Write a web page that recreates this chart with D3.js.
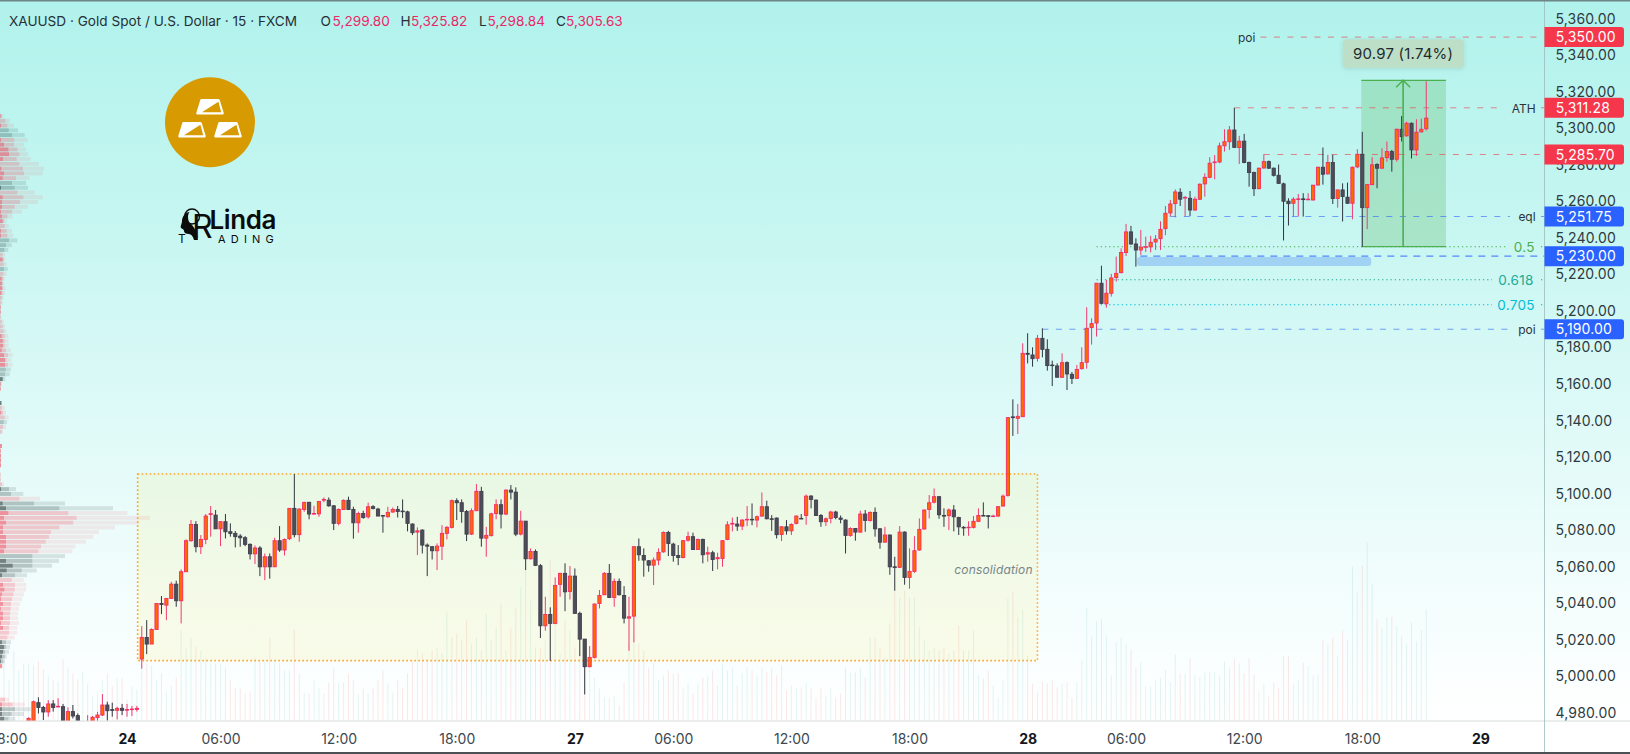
<!DOCTYPE html>
<html><head><meta charset="utf-8">
<script src="https://d3js.org/d3.v7.min.js"></script>
<style>html,body{margin:0;padding:0;background:#fff;overflow:hidden}svg{display:block}text{font-family:Inter,"Liberation Sans",sans-serif}</style>
</head><body><svg id="c" width="1630" height="754"></svg>
<script>
const firstBar=-22, firstVol=-27;
const opens=[4970.5,4966.9,4985.5,4982.9,4980.4,4984.8,4983.3,4983.3,4970.5,4980.6,
4978.4,4965,4970.5,4968.7,4977.3,4978.7,4984.2,4981.7,4981.3,4982.4,
4981.5,4981.8,4981.8,
5009.4,5021.2,5017.6,5025.6,5039.8,5038.9,5042.6,5050.4,5041.3,5057.2,
5074.2,5083.1,5070.9,5074.9,5088.6,5088.2,5080.7,5084.6,5079.1,5078.2,
5076.7,5075.8,5072.2,5067.0,5070.2,5059.9,5065.4,5059.9,5074.2,5069.1,
5075.3,5091.9,5077.5,5091.3,5095.2,5088.8,5088.9,5096.4,5096.4,5093.3,
5083.7,5091.3,5096.3,5091.3,5084.0,5089.1,5087.3,5092.8,5091.5,5088.0,
5087.3,5089.9,5091.3,5090.4,5090.0,5083.3,5078.9,5080.0,5071.8,5070.9,
5068.7,5071.2,5078.2,5081.5,5096.1,5095.0,5090.2,5077.8,5090.6,5101.2,
5075.6,5077.1,5089.1,5093.9,5088.8,5101.9,5100.8,5077.8,5084.9,5064.3,
5068.3,5060.5,5027.6,5033.8,5028.9,5050.3,5056.3,5046.4,5054.8,5034.4,
5020.3,5005.2,5010.3,5039.8,5044.6,5056.3,5043.1,5051.9,5044.2,5031.8,
5032.9,5070.9,5066.1,5063.2,5060.8,5063.6,5068.1,5078.7,5072.3,5066.1,
5065.0,5074.5,5076.4,5069.4,5074.9,5066.9,5067.6,5064.3,5064.5,5074.9,
5083.3,5083.3,5082.2,5085.7,5085.9,5085.5,5087.7,5092.8,5086.2,5086.6,
5077.6,5081.8,5079.6,5083.7,5086.4,5088.0,5098.6,5096.4,5088.0,5084.6,
5086.4,5089.9,5086.6,5085.5,5077.1,5080.9,5078.9,5088.8,5085.3,5089.7,
5080.7,5073.4,5077.3,5059.9,5059.6,5078.9,5054.1,5057.4,5069.1,5080.6,
5091.3,5095.3,5098.3,5088.0,5087.9,5091.0,5086.9,5081.5,5081.3,5081.5,
5084.8,5088.0,5087.9,5087.5,5087.7,5093.2,5099.0,5142.0,5141.2,5142.1,
5176.8,5175.9,5174.1,5185.0,5179.0,5170.4,5169.9,5163.7,5171.7,5165.3,
5163.1,5168.4,5171.9,5190.9,5193.4,5215.2,5204.0,5209.7,5218.3,5221.0,
5232.0,5243.3,5236.7,5233.4,5235.1,5235.1,5237.8,5239.6,5245.1,5253.7,
5258.8,5265.0,5261.9,5261.7,5255.3,5261.2,5269.6,5273.2,5281.4,5281.6,
5290.5,5292.7,5299.1,5289.5,5293.0,5281.3,5275.8,5267.0,5278.3,5281.8,
5278.2,5274.3,5269.6,5260.1,5259.0,5261.2,5261.4,5261.0,5260.8,5269.0,
5278.7,5275.1,5281.3,5261.6,5266.3,5262.3,5259.0,5278.9,5285.8,5256.6,
5269.2,5280.2,5278.2,5284.0,5287.3,5283.1,5299.5,5295.9,5302.8,5288.2,
5298.1,5299.80];
const closes=[4976.9,4986.0,4982.9,4980.4,4984.8,4982.9,4983.5,4968.7,4980.6,4978.2,
4970.5,4968,4973.3,4977.5,4978.7,4984.2,4981.1,4981.3,4982.4,4981.3,
4981.7,4982.0,4982.4,
5021.2,5017.6,5025.6,5039.8,5039.3,5042.6,5050.4,5041.3,5057.2,5074.2,
5083.1,5070.9,5074.9,5087.7,5089.0,5080.7,5084.6,5079.1,5078.2,5076.4,
5075.8,5072.2,5067.0,5070.2,5059.9,5065.4,5059.9,5074.2,5069.1,5074.9,
5091.9,5077.5,5091.5,5095.2,5088.8,5089.1,5095.7,5096.8,5093.3,5083.7,
5091.3,5096.3,5091.3,5084.0,5089.1,5086.9,5092.8,5091.9,5087.7,5087.7,
5089.7,5091.3,5090.2,5090.2,5083.7,5078.6,5079.6,5071.8,5071.2,5068.7,
5071.2,5078.2,5081.5,5096.1,5095.0,5090.2,5077.8,5090.6,5101.2,5075.6,
5077.1,5088.9,5093.9,5088.8,5101.9,5100.8,5077.8,5084.9,5064.3,5068.3,
5060.7,5027.6,5033.8,5028.9,5049.7,5056.3,5046.2,5054.8,5034.4,5020.3,
5005.2,5010.3,5039.5,5044.2,5056.3,5043.1,5051.9,5044.6,5031.8,5032.5,
5070.9,5066.5,5063.6,5060.8,5063.6,5067.8,5078.7,5072.7,5066.1,5065.0,
5074.2,5076.4,5069.4,5074.9,5066.5,5067.6,5063.9,5064.9,5074.2,5082.9,
5083.7,5082.2,5085.5,5085.9,5085.7,5087.3,5092.8,5086.2,5086.0,5077.5,
5081.8,5079.6,5083.1,5087.7,5086.2,5098.6,5096.8,5088.0,5084.6,5086.2,
5089.9,5086.9,5085.9,5077.1,5080.9,5078.9,5088.8,5085.3,5089.7,5080.7,
5073.4,5077.3,5059.9,5059.7,5078.9,5054.1,5057.4,5068.7,5080.4,5091.0,
5095.0,5098.3,5088.4,5087.9,5091.0,5087.3,5081.8,5081.3,5081.6,5084.8,
5088.0,5087.7,5087.5,5087.7,5092.8,5098.6,5141.6,5141.6,5142.3,5176.8,
5176.3,5173.9,5185.0,5179.0,5170.1,5170.1,5163.7,5171.7,5165.5,5163.1,
5168.0,5171.7,5190.5,5193.1,5215.2,5204.2,5209.7,5218.1,5220.6,5232.0,
5243.3,5236.7,5233.4,5234.9,5235.2,5237.6,5239.3,5244.7,5253.5,5258.6,
5265.2,5261.2,5262.2,5255.3,5261.2,5269.4,5273.2,5280.9,5281.6,5290.4,
5292.7,5299.1,5289.6,5293.0,5281.3,5275.8,5267.0,5278.2,5281.8,5278.2,
5274.3,5269.9,5260.1,5258.8,5261.2,5261.4,5261.0,5261.2,5268.9,5278.7,
5274.9,5281.3,5261.6,5266.3,5262.7,5259.0,5278.7,5285.8,5256.6,5269.2,
5280.0,5278.2,5283.8,5287.3,5283.1,5299.5,5295.5,5302.8,5288.2,5297.9,
5299.5,5305.63];
const highs=[4977.5,4986.6,4988.4,4983.7,4986.9,4986.9,4987.9,4984.8,4982.9,4984.2,
4979.6,4970,4978.7,4978.2,4980.4,4990.2,4986.0,4985.5,4983.3,4984.8,
4984.8,4983.7,4983.7,
5027.4,5030.7,5026.2,5039.8,5043.9,5042.6,5051.7,5052.3,5058.5,5074.9,
5085.5,5084.9,5077.3,5088.8,5093.2,5091.0,5084.9,5088.8,5083.7,5079.5,
5077.8,5076.7,5072.7,5071.6,5071.2,5067.2,5067.2,5075.8,5082.2,5075.4,
5092.1,5110.7,5091.9,5095.5,5095.5,5093.3,5095.9,5097.9,5097.9,5093.7,
5091.9,5096.8,5098.3,5092.8,5090.1,5090.6,5095.0,5093.7,5092.2,5088.2,
5092.8,5092.4,5093.2,5096.8,5090.6,5083.7,5081.5,5080.4,5072.7,5071.2,
5072.7,5082.7,5082.2,5096.8,5097.4,5096.8,5091.0,5091.9,5105.2,5103.7,
5081.8,5089.5,5096.8,5096.8,5102.3,5104.7,5103.4,5090.6,5084.9,5070.0,
5069.4,5061.4,5043.5,5037.7,5054.1,5056.6,5061.8,5060.3,5059.0,5035.3,
5020.3,5016.5,5039.8,5047.2,5057.0,5061.4,5053.5,5053.5,5049.3,5043.5,
5071.2,5075.4,5070.0,5063.6,5065.0,5070.0,5079.3,5079.6,5073.1,5071.8,
5074.5,5079.1,5078.6,5075.3,5075.3,5070.9,5068.7,5067.6,5074.5,5084.8,
5086.9,5087.3,5085.9,5093.2,5094.6,5088.0,5100.6,5096.1,5088.2,5086.9,
5082.2,5085.5,5083.7,5088.0,5088.8,5099.5,5099.2,5096.8,5088.8,5086.9,
5090.6,5090.6,5088.0,5085.9,5081.5,5081.1,5090.6,5091.0,5090.2,5092.4,
5081.1,5081.8,5077.5,5065.4,5082.2,5079.3,5070.0,5076.7,5086.4,5091.3,
5099.2,5102.8,5098.6,5091.9,5091.9,5093.7,5087.3,5082.2,5084.8,5087.7,
5091.9,5095.2,5088.2,5088.4,5093.2,5099.5,5141.8,5151.6,5149.1,5182.3,
5187.8,5180.1,5186.9,5190.5,5184.5,5172.8,5171.3,5176.8,5172.4,5166.6,
5170.4,5180.1,5202.0,5196.0,5215.2,5224.8,5217.0,5220.3,5229.8,5234.3,
5247.7,5246.6,5239.8,5244.4,5240.7,5241.1,5241.6,5249.1,5257.5,5260.8,
5266.6,5267.2,5263.0,5265.7,5262.6,5269.9,5275.4,5284.2,5285.4,5292.2,
5299.5,5301.3,5311.28,5295.9,5297.0,5281.8,5276.3,5278.5,5285.8,5282.4,
5278.5,5280.2,5270.3,5261.7,5262.3,5264.1,5264.5,5264.5,5269.0,5279.1,
5289.5,5285.5,5285.5,5266.3,5269.9,5270.3,5279.1,5288.6,5298.1,5269.6,
5284.2,5280.9,5289.1,5292.8,5288.2,5299.9,5306.8,5303.7,5303.2,5305.0,
5305.4,5325.82];
const lows=[4969.6,4966.5,4979.6,4976.0,4977.8,4980.6,4982.9,4967.8,4969.6,4976.9,
4968.7,4962,4968.7,4967.8,4975.3,4978.2,4975.6,4977.8,4976.3,4978.7,
4977.8,4978.2,4980.6,
5004.1,5012.1,5017.6,5025.6,5034.0,5030.7,5042.6,5038.0,5028.9,5057.2,
5073.6,5067.8,5066.9,5072.3,5076.4,5080.7,5071.2,5075.4,5076.4,5070.5,
5070.9,5071.2,5063.9,5061.4,5054.8,5052.6,5053.4,5059.9,5068.1,5066.1,
5074.5,5076.0,5073.6,5090.0,5085.9,5088.6,5087.3,5095.2,5092.8,5080.0,
5082.6,5091.0,5091.0,5075.3,5078.6,5086.2,5086.2,5091.3,5087.7,5078.6,
5086.9,5089.5,5086.9,5086.6,5079.3,5077.3,5066.3,5067.2,5054.8,5063.9,
5058.1,5063.6,5074.9,5080.9,5085.5,5084.0,5074.0,5077.3,5090.6,5070.9,
5065.4,5076.4,5085.9,5080.9,5088.2,5096.8,5076.7,5077.1,5058.1,5063.9,
5060.3,5020.9,5024.9,5008.4,5028.5,5043.5,5035.6,5042.0,5034.4,5011.0,
4990.0,5004.8,5009.7,5037.1,5044.4,5042.8,5038.0,5044.2,5028.9,5013.9,
5018.5,5063.2,5054.5,5057.2,5049.9,5060.8,5067.6,5065.8,5062.7,5060.8,
5064.5,5073.6,5069.1,5069.1,5061.8,5062.7,5057.6,5058.5,5059.9,5074.5,
5079.3,5079.6,5080.0,5082.2,5082.7,5081.5,5087.3,5085.9,5079.6,5075.4,
5074.0,5077.5,5077.3,5083.1,5086.2,5082.9,5091.9,5087.7,5081.8,5082.2,
5083.7,5085.9,5083.7,5067.2,5076.4,5074.2,5078.6,5079.1,5084.6,5076.4,
5069.8,5073.1,5055.5,5046.8,5059.2,5050.1,5047.9,5056.6,5068.7,5080.4,
5086.4,5094.6,5086.2,5081.8,5080.0,5079.3,5077.3,5076.9,5076.9,5080.9,
5084.4,5087.7,5080.9,5087.3,5087.3,5092.8,5098.3,5131.6,5132.6,5142.1,
5171.3,5169.5,5172.3,5174.6,5167.3,5158.9,5163.7,5163.3,5156.7,5160.0,
5162.9,5168.0,5168.4,5181.6,5186.0,5203.8,5201.8,5207.9,5216.1,5220.6,
5230.1,5236.2,5224.3,5230.7,5232.3,5232.1,5233.4,5233.4,5241.5,5251.7,
5251.3,5257.5,5251.7,5252.0,5254.9,5260.8,5262.6,5272.7,5272.1,5280.9,
5287.3,5288.2,5289.3,5280.5,5280.9,5268.1,5263.0,5266.6,5278.0,5277.8,
5273.6,5269.6,5238.6,5246.8,5251.7,5251.7,5251.7,5260.8,5260.5,5268.7,
5269.2,5274.7,5258.6,5256.6,5249.0,5258.6,5250.2,5278.2,5235.3,5244.8,
5268.9,5267.2,5278.0,5281.8,5276.3,5281.8,5292.8,5295.5,5283.5,5284.9,
5297.7,5298.84];
const volumes=[57,40,69,50,57,57,55,59,51,45,40,39,61,53,47,41,49,37,25,27,40,47,34,42,42,21,34,31,
57,57,55,40,47,28,35,43,90,72,83,74,70,63,57,57,57,53,40,33,32,27,28,63,60,60,83,60,58,50,
50,91,47,28,27,40,32,27,38,52,37,38,47,40,27,32,27,33,40,50,37,28,40,33,47,60,72,67,62,70,
73,67,108,83,87,80,100,77,83,70,107,80,93,117,70,93,113,133,150,120,73,72,80,160,100,67,100,90,73,67,
70,63,43,32,23,23,25,15,38,77,83,77,70,53,58,40,45,50,47,47,32,37,27,37,43,45,50,35,57,50,
53,35,47,53,50,45,53,48,53,45,55,30,35,32,33,38,33,23,33,25,33,23,27,53,48,48,53,43,83,83,
73,63,97,130,123,130,123,123,93,80,70,73,70,73,67,70,95,70,70,90,45,42,50,35,23,40,
122,129,103,111,65,37,29,39,37,40,33,37,38,23,38,61,113,84,99,101,84,45,78,83,76,71,53,58,34,34,
41,43,51,38,66,47,47,62,46,44,48,49,48,45,59,52,62,57,47,62,46,29,37,24,38,32,64,64,37,40,
58,54,45,46,80,76,83,64,90,80,154,128,155,178,137,101,93,103,104,94,84,76,98,79,90,111];
const profileTop=5306.8, profileStep=2.62;
const profileSide="pppggppppp pppp ggpppp ppppppgggp ppgppppppp pppppppppp pppgggpp ppgp ppgpp pp ppppp p ppp ggpgg ppppppppp ggggg ppppppppppppp ggggg p pppppp ppggg".replace(/ /g,"").split("");
const profileSolid=[2,0,3,0,0,3,12,25,27,9,0,4,12,8,0,3,0,8,6,6,3,6,8,0,3,3,0,0,0,0,8,0,0,0,5,6,6,4,0,0,2,2,0,0,0,0,5,8,9,5,12,15,15,0,0,8,2,2,0,0,4,0,3,0,0,0,0,0,0,6,2,3,3,3,0,0,0,0,3,0,0,8,18,25,12,18,9,9,18,18,18,12,0,18,38,20,6,0,9,13,6,3,9,3,9,9,3,9,0,0,6,12,9,6,3,6,0,0,0,0,0,0,0,6,6,6,12];
const profileMid=[5,16,22,26,36,43,42,52,58,50,58,69,72,48,36,44,52,70,60,44,36,22,12,14,20,22,27,18,13,8,10,11,12,10,9,8,9,8,6,4,2,2,2,5,8,11,14,14,14,18,24,20,24,17,15,8,4,2,0,0,4,6,9,14,11,9,5,0,0,6,3,3,3,3,0,2,2,6,27,33,58,102,178,205,230,220,178,153,147,137,123,115,97,97,97,65,45,35,45,44,40,36,33,32,30,30,30,27,27,22,18,18,15,14,10,6,0,0,0,0,0,0,15,38,45,35,25];
const profileWide=[10,30,42,54,74,83,72,78,84,92,116,132,128,88,78,84,104,128,114,84,66,38,20,26,36,40,52,35,25,15,16,20,23,20,15,12,17,15,11,8,3,3,4,11,15,20,25,26,26,32,38,34,38,32,29,16,5,3,0,0,6,15,18,26,21,18,9,0,0,6,3,3,3,3,0,3,3,12,48,70,120,195,339,382,450,418,345,297,280,258,226,217,195,177,156,110,81,71,79,78,72,66,60,57,54,54,57,52,52,44,33,30,27,20,15,9,0,0,0,0,0,0,27,75,92,72,46];
const priceTicks=[5360,5340,5320,5300,5280,5260,5240,5220,5200,5180,5160,5140,5120,5100,5080,5060,5040,5020,5000,4980];
const timeBars=[-26,-2,17,41,65,89,109,133,157,181,201,225,249,273];
const timeLabels=["18:00","24","06:00","12:00","18:00","27","06:00","12:00","18:00","28","06:00","12:00","18:00","29"];
const dayLabels=["24","27","28","29"];
const levelPrices=[5350,5311.28,5285.70,5251.75,5230,5190];
const levelColors=["#f23645","#f23645","#f23645","#2962ff","#2962ff","#2962ff"];
const levelNames=["poi","ATH","","eql","","poi"];
const levelStartBars=[228.3,223,229,210,203.9,184];
const fibPrices=[5235.2,5217.1,5203.4];
const fibNames=["0.5","0.618","0.705"];
const fibColors=["#4caf50","#22ab94","#00bcd4"];
const boxRange={top:5110.7,bottom:5008.5,from:0.16,to:183};
const zoneRange={top:5229.6,bottom:5224.7,from:203.2,to:250.8};
const measureRange={top:5326.3,bottom:5235.2,from:248.8,to:266,mid:257.3};
const legendFields=[["O","5,299.80"],["H","5,325.82"],["L","5,298.84"],["C","5,305.63"]];

const W=1630,H=754,axisX=1544.5,paneB=721;
const x=d3.scaleLinear([-26,273],[8.9,1480.4]);
const y=d3.scaleLinear([4980,5360],[712.7,18.82]);
const volY=d3.scaleLinear([0,200],[720.5,520.5]);
const profX=d3.scaleLinear([0,450],[0,150]);
const bars=d3.range(opens.length).map(i=>({n:i+firstBar,o:opens[i],h:highs[i],l:lows[i],c:closes[i]}));
const vols=volumes.map((v,i)=>({n:i+firstVol,v,up:(bars.find(b=>b.n===i+firstVol)||{o:0,c:1}).c>=(bars.find(b=>b.n===i+firstVol)||{o:0,c:1}).o}));
const svg=d3.select("#c");
const defs=svg.append("defs");
const g=defs.append("linearGradient").attr("id","bg").attr("x1",0).attr("x2",0).attr("y1",0).attr("y2",1);
[[0,"#b1f2ec"],[.3,"#c6f6f1"],[.6,"#e0faf8"],[.8,"#f1fdfc"],[1,"#ffffff"]].forEach(s=>g.append("stop").attr("offset",s[0]).attr("stop-color",s[1]));
defs.append("clipPath").attr("id","pane").append("rect").attr("width",axisX).attr("height",paneB);
defs.append("filter").attr("id","sh").attr("x","-20%").attr("y","-30%").attr("width","140%").attr("height","170%").append("feDropShadow").attr("dx",0).attr("dy",1).attr("stdDeviation",2).attr("flood-color","#000").attr("flood-opacity",.12);

svg.append("rect").attr("width",W).attr("height",H).attr("fill","#fff");
svg.append("rect").attr("width",W).attr("height",paneB).attr("fill","url(#bg)");
const pane=svg.append("g").attr("clip-path","url(#pane)");

// volume
pane.append("g").selectAll("rect").data(vols).join("rect")
 .attr("x",d=>x(d.n)-.5).attr("width",1).attr("y",d=>volY(d.v)).attr("height",d=>volY(0)-volY(d.v))
 .attr("fill",d=>d.up?"rgba(38,166,154,.12)":"rgba(242,54,69,.12)");

// profile
const profRows=profileWide.map((w,i)=>({p:profileTop-i*profileStep,w,m:profileMid[i],s:profileSolid[i],side:profileSide[i]}));
const rowH=Math.abs(y(0)-y(profileStep))-.8;
const pCols={p:["rgba(242,70,90,.1)","rgba(242,70,90,.2)","rgba(240,70,90,.42)"],g:["rgba(70,90,90,.15)","rgba(60,85,85,.22)","rgba(40,50,50,.45)"]};
const layer=(key,idx)=>pane.append("g").selectAll("rect").data(profRows.filter(d=>d[key]>0)).join("rect")
 .attr("x",0).attr("y",d=>y(d.p)-rowH/2).attr("height",rowH).attr("width",d=>profX(d[key])).attr("fill",d=>pCols[d.side][idx]);
layer("w",0);layer("m",1);layer("s",2);

// consolidation box
pane.append("rect").attr("x",x(boxRange.from)).attr("y",y(boxRange.top)).attr("width",x(boxRange.to)-x(boxRange.from)).attr("height",y(boxRange.bottom)-y(boxRange.top))
 .attr("fill","rgba(255,225,60,.11)").attr("stroke","#ffa726").attr("stroke-width",1.6).attr("stroke-dasharray","1.6 2.4");
pane.append("text").attr("x",993.5).attr("y",569.3).attr("dy",".35em").attr("text-anchor","middle").attr("font-size",12).attr("font-style","italic").attr("fill","#77848a").attr("letter-spacing",.15).text("consolidation");

// measure
pane.append("rect").attr("x",x(measureRange.from)).attr("y",y(measureRange.top)).attr("width",x(measureRange.to)-x(measureRange.from)).attr("height",y(measureRange.bottom)-y(measureRange.top)).attr("fill","rgba(76,175,80,.25)");
[measureRange.top,measureRange.bottom].forEach(p=>pane.append("line").attr("x1",x(measureRange.from)).attr("x2",x(measureRange.to)).attr("y1",y(p)).attr("y2",y(p)).attr("stroke","#4caf50").attr("stroke-width",1.2));
pane.append("rect").attr("x",x(zoneRange.from)).attr("y",y(zoneRange.top)).attr("rx",3).attr("width",x(zoneRange.to)-x(zoneRange.from)).attr("height",y(zoneRange.bottom)-y(zoneRange.top)).attr("fill","rgba(80,140,245,.35)");

// levels
const breakX={poi:1508,ATH:1503,eql:1510};
const gapEnd=1541;
levelPrices.forEach((p,i)=>{
  const c=levelColors[i], name=levelNames[i], thick=p===5230?1.3:1;
  const op=c==="#2962ff"?(p===5230?.75:.6):.6;
  const end=(name&&p!==5350)?breakX[name]:axisX;
  const seg=(a,b)=>pane.append("line").attr("x1",a).attr("x2",b).attr("y1",y(p)).attr("y2",y(p)).attr("stroke",c).attr("stroke-opacity",op).attr("stroke-width",thick).attr("stroke-dasharray",p===5230?"7 6":"6 7.5");
  seg(x(levelStartBars[i]),end);
  if(name&&p!==5350) seg(gapEnd,axisX);
  if(name) pane.append("text").attr("x",p===5350?1246.7:(name==="ATH"?1523.7:1527)).attr("y",y(p)).attr("dy",name==="ATH"?".4em":".38em").attr("text-anchor","middle").attr("font-size",12).attr("fill","#2b3338").text(name);
});
fibPrices.forEach((p,i)=>{
  const seg=(a,b)=>pane.append("line").attr("x1",a).attr("x2",b).attr("y1",y(p)).attr("y2",y(p)).attr("stroke",fibColors[i]).attr("stroke-width",1.1).attr("stroke-dasharray","1.3 2.9");
  seg(x(195),i===0?1506:1492);seg(gapEnd,axisX);
  pane.append("text").attr("x",i===0?1524.3:1516).attr("y",y(p)).attr("dy",".36em").attr("text-anchor","middle").attr("font-size",13.5).attr("letter-spacing",.3).attr("fill",fibColors[i]).text(fibNames[i]);
});

// candles
const col={up:{fill:"#ff6a00",stroke:"#f52a68",wick:"#f23a72"},dn:{fill:"#4d4d5b",stroke:"#3f3f4a",wick:"#2f3540"}};
const cg=pane.append("g");
const dir=d=>d.c>=d.o?col.up:col.dn;
cg.selectAll("line").data(bars).join("line").attr("x1",d=>x(d.n)).attr("x2",d=>x(d.n)).attr("y1",d=>y(d.h)).attr("y2",d=>y(d.l)).attr("stroke",d=>dir(d).wick).attr("stroke-width",1);
cg.selectAll("rect").data(bars).join("rect").attr("x",d=>x(d.n)-1.6).attr("width",3.2)
 .attr("y",d=>y(Math.max(d.o,d.c))).attr("height",d=>Math.max(.6,Math.abs(y(d.o)-y(d.c))))
 .attr("fill",d=>dir(d).fill).attr("stroke",d=>dir(d).stroke).attr("stroke-width",.9);

// measure arrow (drawn over candles)
const ax=x(measureRange.mid);
pane.append("line").attr("x1",ax).attr("x2",ax).attr("y1",y(measureRange.top)).attr("y2",y(measureRange.bottom)).attr("stroke","#4caf50").attr("stroke-width",1.6);
pane.append("path").attr("d",`M${ax-7},${y(measureRange.top)+7}L${ax},${y(measureRange.top)}L${ax+7},${y(measureRange.top)+7}`).attr("fill","none").attr("stroke","#4caf50").attr("stroke-width",1.4);
pane.append("rect").attr("x",ax-60.5).attr("y",39.3).attr("width",121.5).attr("height",28.4).attr("rx",4).attr("fill","#bddfc8").attr("filter","url(#sh)");
pane.append("text").attr("x",ax).attr("y",53.6).attr("dy",".36em").attr("text-anchor","middle").attr("font-size",15).attr("letter-spacing",.2).attr("fill","#1f2b2b").text("90.97 (1.74%)");

// axes
const yAxis=svg.append("g").attr("transform",`translate(${axisX},0)`).call(d3.axisRight(y).tickValues(priceTicks).tickSize(0).tickPadding(11).tickFormat(d3.format(",.2f")));
yAxis.select(".domain").remove();
yAxis.selectAll("text").attr("font-family","Inter").attr("font-size",14).attr("letter-spacing",.15).attr("fill","#2e3a40");
const xAxis=svg.append("g").attr("transform",`translate(0,${paneB})`).call(d3.axisBottom(x).tickValues(timeBars).tickSize(0).tickPadding(13).tickFormat((d,i)=>timeLabels[i]));
xAxis.select(".domain").remove();
xAxis.selectAll("text").attr("font-family","Inter").attr("font-size",14).attr("fill",(d,i)=>dayLabels.includes(timeLabels[i])?"#131722":"#3d484f").attr("font-weight",(d,i)=>dayLabels.includes(timeLabels[i])?700:400);
svg.append("line").attr("x1",0).attr("x2",W).attr("y1",paneB).attr("y2",paneB).attr("stroke","#d8dcdc");
svg.append("line").attr("x1",axisX).attr("x2",axisX).attr("y1",0).attr("y2",H).attr("stroke","#9cbcbc").attr("stroke-opacity",.8);
svg.append("rect").attr("width",W).attr("height",1.5).attr("fill","#6f8587");
svg.append("rect").attr("y",752).attr("width",W).attr("height",2).attr("fill","#4a5053");

// price labels
levelPrices.forEach((p,i)=>{
  svg.append("path").attr("d",`M${axisX},${y(p)-10}H1621a3,3 0 0 1 3,3V${y(p)+7}a3,3 0 0 1 -3,3H${axisX}Z`).attr("fill",levelColors[i]==="#f23645"?"#f6374b":"#2962ff");
  svg.append("text").attr("x",1555.7).attr("y",y(p)).attr("dy",".36em").attr("font-size",14).attr("letter-spacing",.15).attr("fill","#fff").text(d3.format(",.2f")(p));
});

// legend
const lg=svg.append("g").attr("font-size",13.6);
lg.append("text").attr("x",9).attr("y",21.5).attr("dy",".36em").attr("fill","#262f36").text("XAUUSD · Gold Spot / U.S. Dollar · 15 · FXCM");
const lx=[[320.5,332.6],[400.4,411],[479,487.5],[556,566]];
legendFields.forEach((f,i)=>{
 lg.append("text").attr("x",lx[i][0]).attr("y",21.5).attr("dy",".36em").attr("fill","#262f36").text(f[0]);
 lg.append("text").attr("x",lx[i][1]).attr("y",21.5).attr("dy",".36em").attr("fill","#ec2566").text(f[1]);
});

// gold logo
const logo=svg.append("g").attr("transform","translate(210,122.3)");
logo.append("circle").attr("r",45).attr("fill","#d79a00");
[[0,-15.5],[-18,7.5],[18,7.5]].forEach(p=>{
 const b=logo.append("g").attr("transform",`translate(${p[0]},${p[1]})`);
 b.append("path").attr("d","M-8.5,-6.5H8.5L12.5,6.5H-12.5Z").attr("fill","#fff").attr("stroke","#fff").attr("stroke-width",2.6).attr("stroke-linejoin","round");
 b.append("path").attr("d","M-8,5.5L8.4,-5L11.2,5.5Z").attr("fill","#d79a00");
});
// RLinda logo
const rl=svg.append("g").attr("fill","#0c0c0c");
rl.append("path").attr("d","M190,212c-5,0-8,5-8,9c0,3-2,5-1,7c1,1,3,1,3,3c0,2,2,3,5,3c2,0,4,2,5,6l4,0c-1,-7,-3,-12,-6,-15c-3,-2,-4,-5,-4,-8c0,-3,1,-5,2,-5Z");
rl.append("circle").attr("cx",192).attr("cy",216.5).attr("r",7.5).attr("fill","none").attr("stroke","#0c0c0c").attr("stroke-width",1.4);
rl.append("text").attr("x",192).attr("y",238).attr("font-family","Open Sans").attr("font-size",32).attr("font-weight",400).text("R");
rl.append("text").attr("x",209.5).attr("y",228.5).attr("font-family","Open Sans").attr("font-size",26).attr("font-weight",600).attr("letter-spacing",-.4).text("Linda");
rl.append("text").attr("x",178).attr("y",242.5).attr("font-family","Open Sans").attr("font-size",12).text("T");
rl.append("text").attr("x",218).attr("y",242.5).attr("font-family","Open Sans").attr("font-size",11).attr("letter-spacing",5.2).text("ADING");
</script></body></html>
